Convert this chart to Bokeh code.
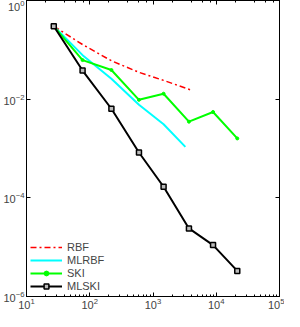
from bokeh.plotting import figure
from bokeh.models import LogAxis, FixedTicker, LogTicker, Legend, CustomJSTickFormatter
from bokeh.embed import file_html
from bokeh.resources import INLINE

# Data
n_ski = [27, 77, 220, 600, 1470, 3700, 8900, 21500]
err_mlski = [0.30, 0.038, 0.0064, 8.3e-4, 1.68e-4, 2.4e-5, 1.1e-5, 3.3e-6]
err_ski = [0.30, 0.062, 0.039, 0.0097, 0.0129, 0.0035, 0.0055, 0.0016]
n_rbf = [27, 77, 220, 600, 1470, 4000]
err_rbf = [0.30, 0.128, 0.060, 0.035, 0.024, 0.0153]
n_mlrbf = [27, 77, 220, 600, 1470, 3250]
err_mlrbf = [0.30, 0.078, 0.026, 0.0077, 0.0031, 0.00108]

y_ticks = [1e-6, 1e-4, 1e-2, 1]

FONT = "Liberation Sans"

p = figure(width=284, height=311, x_axis_type="log", y_axis_type="log",
           x_range=(10, 1e5), y_range=(1e-6, 1),
           output_backend="svg", toolbar_location=None,
           min_border_left=0, min_border_right=5, min_border_top=0,
           min_border_bottom=0)
p.xgrid.visible = False
p.ygrid.visible = False
p.outline_line_color = "black"
p.background_fill_color = "white"

r_rbf = p.line(n_rbf, err_rbf, color="red", line_width=1.5, line_dash="6 3 2 3")
r_mlrbf = p.line(n_mlrbf, err_mlrbf, color="cyan", line_width=2)
r_ski = p.line(n_ski, err_ski, color="lime", line_width=2)
r_ski_m = p.scatter(n_ski, err_ski, marker="circle", size=3, color="lime")
r_mlski = p.line(n_ski, err_mlski, color="black", line_width=2)
r_mlski_m = p.scatter(n_ski, err_mlski, marker="square", size=5,
                      line_color="black", line_width=1.5, fill_color="#bbbbbb")

legend = Legend(items=[("RBF", [r_rbf]), ("MLRBF", [r_mlrbf]),
                       ("SKI", [r_ski, r_ski_m]), ("MLSKI", [r_mlski, r_mlski_m])],
                location="bottom_left")
legend.border_line_color = None
legend.background_fill_alpha = 0
legend.label_text_font = FONT
legend.label_text_font_size = "11px"
legend.glyph_width = 32
legend.glyph_height = 12
legend.label_height = 12
legend.spacing = 1
legend.padding = 2
legend.margin = 4
legend.label_standoff = 5
p.add_layout(legend)

for ax in (p.xaxis[0], p.yaxis[0]):
    ax.major_label_text_font = FONT
    ax.major_label_text_font_size = "11px"
    ax.major_tick_in = 4
    ax.major_tick_out = 0
    ax.minor_tick_in = 2
    ax.minor_tick_out = 0
    ax.axis_line_color = "black"
    ax.major_tick_line_color = "black"
    ax.minor_tick_line_color = "black"
    ax.major_label_standoff = 2

p.xaxis[0].major_label_standoff = 1
p.yaxis[0].ticker = FixedTicker(ticks=y_ticks, minor_ticks=[])

blank = CustomJSTickFormatter(code="return '';")
top = LogAxis(ticker=LogTicker(), formatter=blank,
              major_tick_in=4, major_tick_out=0, minor_tick_in=2, minor_tick_out=0,
              major_label_standoff=0, axis_line_color="black")
right = LogAxis(ticker=FixedTicker(ticks=y_ticks, minor_ticks=[]), formatter=blank,
                major_tick_in=4, major_tick_out=0, minor_tick_in=0, minor_tick_out=0,
                major_label_standoff=0, axis_line_color="black")
p.add_layout(top, "above")
p.add_layout(right, "right")

open("out.html", "w").write(file_html(p, INLINE))
